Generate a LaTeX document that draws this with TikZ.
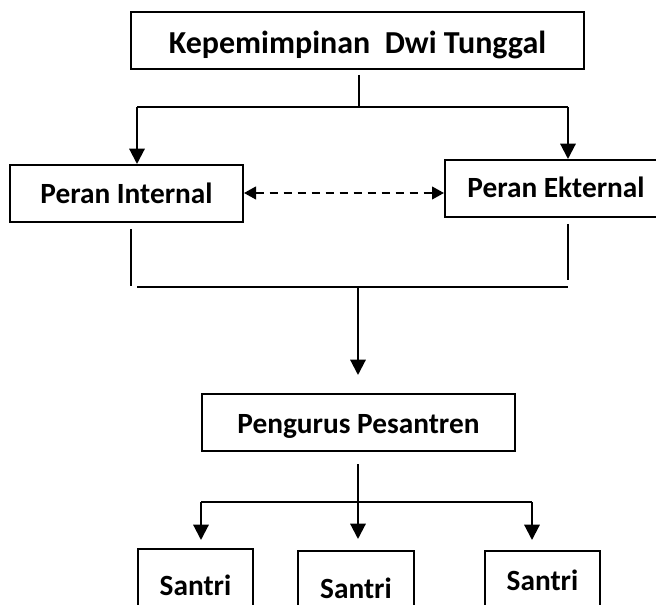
\documentclass[tikz,border=0pt]{standalone}
\usepackage{fontspec}
\setmainfont{Carlito}
\usetikzlibrary{arrows.meta}
% one drawing unit = one pixel of the 656 x 605 sheet
\newdimen\pxu \pxu=0.75pt
\begin{document}
\begin{tikzpicture}[x=0.75pt,y=-0.75pt,
  box/.style={draw, line width=1.5pt, inner sep=0pt, anchor=north west,
    font=\fontsize{22}{26}\selectfont\bfseries},
  titlebox/.style={box, font=\fontsize{24}{28}\selectfont\bfseries},
  conn/.style={line width=1.6pt},
  fine/.style={line width=1pt},
  arr/.style={conn, -{Triangle[width=11.5pt,length=11.5pt]}},
  dasharr/.style={line width=1.5pt, dash pattern=on 6pt off 4.5pt,
    {Triangle[width=9.5pt,length=9pt]}-{Triangle[width=9.5pt,length=9pt]}}]
\clip (0,0) rectangle (656,605);

% boxes
\node[titlebox, minimum width=453\pxu, text height=42\pxu, text depth=15\pxu] (top) at (130,11) {Kepemimpinan\ \ Dwi Tunggal};
\node[box, minimum width=233\pxu, text height=39\pxu, text depth=18\pxu] (int) at (9,164) {Peran Internal};
\node[box, minimum width=222\pxu, text height=38\pxu, text depth=19\pxu] (ext) at (444,159) {Peran Ekternal};
\node[box, minimum width=313\pxu, text height=39\pxu, text depth=18\pxu] (pen) at (201,393) {Pengurus Pesantren};
\node[box, minimum width=115\pxu, text height=46\pxu, text depth=25\pxu] (s1) at (137,548) {Santri};
\node[box, minimum width=116\pxu, text height=47\pxu, text depth=25\pxu] (s2) at (297,550) {Santri};
\node[box, minimum width=115\pxu, text height=39\pxu, text depth=25\pxu] (s3) at (484,550) {Santri};

% top split
\coordinate (j1) at (359,107);
\coordinate (a1) at (137,107);
\coordinate (a2) at (568,107);
\draw[fine] ([yshift=-3.75pt]top.south -| j1) -- (j1);
\draw[conn] (a1) -- (a2);
\draw[arr] (a1) -- (a1 |- int.north);
\draw[arr] (a2) -- (a2 |- ext.north);

% two-way link between the roles
\coordinate (dl) at (0,193);
\draw[dasharr] (int.east |- dl) -- (ext.west |- dl);

% roles merge
\coordinate (l2) at (131,286);
\coordinate (r2) at (568,280);
\coordinate (h1) at (137,287);
\coordinate (h2) at (568,287);
\coordinate (c1) at (358,287);
\draw[fine] ([yshift=-4.5pt]int.south -| l2) -- (l2);
\draw[fine] ([yshift=-4.5pt]ext.south -| r2) -- (r2);
\draw[conn] (h1) -- (h2);
\draw[arr] (c1) -- ([yshift=13.5pt]pen.north -| c1);

% split to the santri
\coordinate (b0) at (358,502);
\coordinate (b1) at (201,502);
\coordinate (b2) at (532,502);
\draw[arr] ([yshift=-9pt]pen.south -| b0) -- ([yshift=8.25pt]s2.north -| b0);
\draw[fine] (b1) -- (b2);
\draw[arr] (b1) -- ([yshift=6pt]s1.north -| b1);
\draw[arr] (b2) -- ([yshift=7.5pt]s3.north -| b2);
\end{tikzpicture}
\end{document}
